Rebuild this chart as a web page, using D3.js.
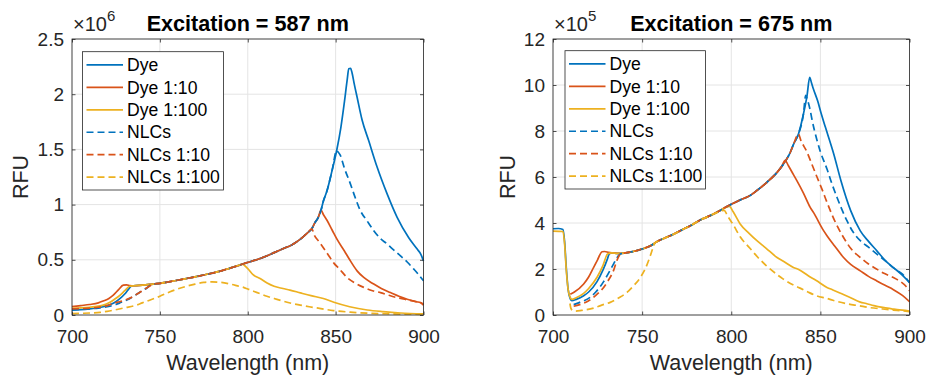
<!DOCTYPE html>
<html><head><meta charset="utf-8">
<script src="https://cdn.jsdelivr.net/npm/d3@7"></script>
<style>
body{margin:0;background:#fff;}
text{font-family:"Liberation Sans",Arial,Helvetica,sans-serif;}
</style></head>
<body><svg id="c" width="926" height="376"></svg>
<script>
// ---------- data ----------
const wlTicks = [700, 750, 800, 850, 900];
const rfuTicks587 = [0, 0.5, 1, 1.5, 2, 2.5];
const rfuTicks675 = [0, 2, 4, 6, 8, 10, 12];
const seriesNames = ["Dye", "Dye 1:10", "Dye 1:100", "NLCs", "NLCs 1:10", "NLCs 1:100"];
const titles = ["Excitation = 587 nm", "Excitation = 675 nm"];
const exponents = ["6", "5"];

// Excitation 587 nm, RFU x 1e6, [wavelength, value]
const dye587 = [[700,0.045],[705,0.048],[710,0.055],[715,0.066],[720,0.085],[724,0.11],[727.4,0.15],[730,0.19],[732,0.23],[733.7,0.26],[735,0.265],
 [740,0.27],[745,0.278],[750,0.287],[755,0.30],[760,0.315],[765,0.33],[770,0.345],[775,0.362],[780,0.38],[785,0.40],[790,0.425],[795,0.45],[800,0.477],[805,0.50],[810,0.53],[815,0.565],[820,0.60],[825,0.635],[828,0.665],[831,0.70],[834,0.745],[836.4,0.78],[838,0.83],[840,0.88],[841.7,0.95],[843,1.03],[845,1.12],[848,1.31],[850.6,1.49],[853,1.70],[855,1.93],[856.5,2.12],[857.5,2.23],[858.5,2.235],
 [859.4,2.19],[860.5,2.10],[862.2,1.975],[865.1,1.764],[868.8,1.58],[873.6,1.34],[879.3,1.097],[885,0.885],[891.6,0.70],[896.4,0.597],[898.5,0.55],[900,0.49]];
const dye10_587 = [[700,0.075],[705,0.085],[710,0.095],[715,0.11],[717.8,0.127],[721,0.15],[723.5,0.18],[726.5,0.23],[729.2,0.27],[731,0.272],[733,0.267],[735,0.265],
 [740,0.27],[745,0.278],[750,0.287],[755,0.30],[760,0.315],[765,0.33],[770,0.345],[775,0.362],[780,0.38],[785,0.40],[790,0.425],[795,0.45],[800,0.477],[805,0.50],[810,0.53],[815,0.565],[820,0.60],[825,0.635],[828,0.665],[831,0.70],[834,0.745],[836.4,0.78],[838,0.83],[840,0.88],[841.7,0.95],
 [843,0.91],[845,0.86],[848,0.77],[851,0.68],[855,0.58],[858,0.50],[862.2,0.40],[866,0.34],[871.7,0.28],[876,0.24],[881.2,0.203],[886,0.17],[890.7,0.143],[896,0.12],[898.3,0.112],[900,0.09]];
const dye100_587 = [[700,0.06],[705,0.064],[710,0.07],[715,0.08],[717.8,0.09],[721,0.11],[724,0.14],[727.4,0.18],[730,0.22],[732.8,0.26],[735,0.265],
 [740,0.27],[745,0.278],[750,0.287],[755,0.30],[760,0.315],[765,0.33],[770,0.345],[775,0.362],[780,0.38],[785,0.40],[790,0.425],[795,0.45],
 [796.7,0.46],[800,0.42],[803,0.365],[807,0.33],[811,0.29],[815,0.26],[820,0.24],[824,0.226],[830,0.20],[836,0.175],[843,0.15],[849,0.115],[858,0.075],[868,0.045],[877,0.03],[887,0.018],[900,0.01]];
const nlc587 = [[700,0.05],[705,0.052],[710,0.056],[715,0.063],[720,0.075],[725,0.095],[728,0.115],[731.2,0.136],[735,0.17],[738,0.20],[740.6,0.225],[742.6,0.245],[745,0.275],
 [750,0.287],[755,0.30],[760,0.315],[765,0.33],[770,0.345],[775,0.362],[780,0.38],[785,0.40],[790,0.425],[795,0.45],[800,0.477],[805,0.50],[810,0.53],[815,0.565],[820,0.60],[825,0.635],[828,0.665],[831,0.70],[834,0.745],[836.4,0.78],[838,0.83],[840,0.88],[841.7,0.95],[843,1.03],[845,1.12],[848,1.31],[850.6,1.49],
 [851.2,1.48],[852.7,1.445],[855,1.33],[858.4,1.188],[861,1.07],[864.1,0.945],[868,0.85],[871.7,0.764],[875,0.70],[879.3,0.643],[883,0.59],[886.9,0.536],[890.7,0.48],[894.5,0.415],[897,0.37],[900,0.31]];
const nlc10_587 = [[700,0.055],[705,0.058],[710,0.062],[715,0.07],[720,0.085],[723.5,0.106],[727,0.12],[731,0.14],[735,0.17],[738,0.20],[741,0.23],[744,0.26],[746,0.28],
 [750,0.287],[755,0.30],[760,0.315],[765,0.33],[770,0.345],[775,0.362],[780,0.38],[785,0.40],[790,0.425],[795,0.45],[800,0.477],[805,0.50],[810,0.53],[815,0.565],[820,0.60],[825,0.635],[828,0.665],[831,0.70],[834,0.745],[836.4,0.78],
 [838,0.72],[840.8,0.66],[843,0.61],[846.4,0.53],[849,0.47],[852,0.42],[856.5,0.34],[861,0.29],[866,0.25],[871,0.22],[875.5,0.203],[880,0.18],[885,0.157],[890,0.14],[894.5,0.125],[898,0.113],[900,0.10]];
const nlc100_587 = [[700,0.012],[705,0.015],[710,0.018],[716,0.024],[720,0.033],[725.6,0.05],[730,0.065],[736.8,0.09],[740,0.11],[744.5,0.136],[750,0.17],[755.8,0.21],[760,0.235],[765,0.26],[770,0.28],[775,0.295],[779.6,0.30],[785,0.295],[790,0.28],[795,0.26],[797.6,0.25],[800,0.235],[805,0.205],[810.9,0.17],[815,0.15],[820.4,0.124],[825,0.105],[829.9,0.09],[835,0.075],[839.3,0.064],[848.8,0.04],[858.3,0.026],[867.8,0.017],[880,0.011],[890,0.008],[900,0.006]];

// Excitation 675 nm, RFU x 1e5, [wavelength, value]
const dye675 = [[700,3.75],[703,3.76],[705.6,3.72],[706.5,3.2],[707.5,2.0],[708.5,1.1],[709.7,0.70],[710.6,0.62],[713,0.68],[717.2,0.84],[720,1.0],[724.7,1.45],[728,1.95],[730.6,2.45],[731.5,2.65],[733,2.70],
 [736,2.68],[740,2.69],[745,2.76],[750,2.87],[755,3.02],[758.3,3.19],[765,3.42],[773.3,3.74],[777,3.88],[782.6,4.13],[788.2,4.32],[795,4.60],[800,4.82],[805,5.0],[810.7,5.2],[815,5.45],[820,5.77],[825.7,6.2],[828,6.42],[830.3,6.68],[833,7.05],[835,7.43],[837.7,7.87],[840.5,8.74],[842.5,9.53],
 [844,10.33],[845,10.1],[846,9.85],[848.5,9.3],[850.5,8.75],[852.8,8.17],[857.5,7.0],[861.5,5.85],[867,4.54],[872.4,3.66],[877,3.2],[881.7,2.79],[886,2.4],[891,2.06],[895,1.8],[900,1.42]];
const dye10_675 = [[709.7,0.90],[712,1.0],[717.2,1.35],[720,1.65],[722.8,2.07],[725,2.4],[727.5,2.75],[729,2.76],[731.2,2.72],[733,2.70],
 [736,2.68],[740,2.69],[745,2.76],[750,2.87],[755,3.02],[758.3,3.19],[765,3.42],[773.3,3.74],[777,3.88],[782.6,4.13],[788.2,4.32],[795,4.60],[800,4.82],[805,5.0],[810.7,5.2],[815,5.45],[820,5.77],[825.7,6.2],[828,6.42],
 [830.3,6.72],[832,6.5],[834.9,6.1],[836.8,5.84],[840.5,5.3],[844.3,4.68],[846.2,4.45],[851.8,3.67],[853.7,3.45],[858,3.0],[863,2.5],[867,2.2],[872.4,1.92],[877,1.68],[881.7,1.48],[886,1.3],[891,1.1],[896,0.85],[900,0.58]];
const dye100_675 = [[700,3.65],[705.6,3.63],[706.5,3.1],[707.5,1.9],[708.5,1.1],[709.7,0.75],[710.6,0.68],[713,0.75],[717.2,0.94],[720,1.15],[724.7,1.64],[728,2.15],[730.6,2.65],[733,2.70],
 [736,2.68],[740,2.69],[745,2.76],[750,2.87],[755,3.02],[758.3,3.19],[765,3.42],[773.3,3.74],[777,3.88],[782.6,4.13],[788.2,4.32],[795,4.60],
 [797,4.68],[799,4.72],[801,4.5],[805,3.96],[810,3.55],[814.4,3.23],[819.6,2.9],[825.7,2.5],[829,2.35],[834.9,2.07],[838.3,1.96],[843,1.72],[847.7,1.5],[853.7,1.2],[857,1.09],[862,0.92],[866.4,0.77],[872.4,0.56],[875.7,0.5],[880,0.41],[885,0.33],[890,0.27],[894.4,0.22],[898.5,0.19],[900,0.16]];
const nlc675 = [[711.6,0.45],[715,0.55],[720.9,0.77],[724,1.0],[728.4,1.45],[731,1.8],[734,2.22],[736,2.5],[737.7,2.65],[740,2.69],
 [745,2.76],[750,2.87],[755,3.02],[758.3,3.19],[765,3.42],[773.3,3.74],[777,3.88],[782.6,4.13],[788.2,4.32],[795,4.60],[800,4.82],[805,5.0],[810.7,5.2],[815,5.45],[820,5.77],[825.7,6.2],[828,6.42],[830.3,6.68],[833,7.05],[835,7.43],[837.7,7.87],[840.5,8.74],
 [841.8,9.55],[843,9.3],[844.3,8.9],[845.3,8.5],[848.1,7.6],[850,7.1],[853.7,6.35],[856.5,5.7],[859.3,5.12],[864.9,4.1],[868,3.65],[872.4,3.23],[877,2.95],[881.7,2.65],[887.3,2.3],[891,2.05],[894.8,1.85],[897,1.7],[900,1.4]];
const nlc10_675 = [[711.6,0.38],[715,0.45],[720.9,0.66],[724,0.85],[728.4,1.2],[731,1.5],[734,1.94],[736,2.4],[737.5,2.62],[740,2.69],
 [745,2.76],[750,2.87],[755,3.02],[758.3,3.19],[765,3.42],[773.3,3.74],[777,3.88],[782.6,4.13],[788.2,4.32],[795,4.60],[800,4.82],[805,5.0],[810.7,5.2],[815,5.45],[820,5.77],[825.7,6.2],[828,6.42],[830.3,6.68],[833,7.05],[835,7.43],
 [837.7,7.87],[839,7.6],[842.4,7.1],[845,6.6],[848.1,6.0],[851,5.45],[853.7,4.9],[858,4.1],[863,3.37],[867,2.9],[872.4,2.5],[877,2.22],[881.7,1.99],[886,1.8],[891,1.63],[895,1.45],[898,1.25],[900,1.05]];
const nlc100_675 = [[709.5,0.5],[710,0.3],[711,0.2],[712.5,0.17],[716,0.2],[722.8,0.3],[727,0.42],[732.1,0.55],[737,0.75],[741.5,0.98],[745,1.25],[749,1.63],[752,2.05],[754.6,2.58],[756,2.9],[757.4,3.16],[758.3,3.19],
 [765,3.42],[773.3,3.74],[777,3.88],[782.6,4.13],[788.2,4.32],[792,4.45],[796,4.55],
 [798,4.3],[801.3,3.9],[805,3.4],[810.5,2.9],[815,2.5],[819.6,2.15],[825,1.8],[829,1.57],[834.9,1.3],[838.3,1.18],[843,1.0],[847.7,0.84],[853.7,0.72],[857,0.64],[866,0.47],[872,0.4],[876,0.34],[885,0.26],[893,0.2],[900,0.15]];

// ---------- drawing ----------
const colors = ["#0072BD", "#D95319", "#EDB120", "#0072BD", "#D95319", "#EDB120"];
const dashes = [null, null, null, "7,4", "7,4", "7,4"];
const svg = d3.select("#c");
svg.append("rect").attr("width", 926).attr("height", 376).attr("fill", "#fff");

const panels = [
  {x0: 72, x1: 423.5, y0: 39, y1: 315, ymax: 2.5, yticks: rfuTicks587, series: [dye587, dye10_587, dye100_587, nlc587, nlc10_587, nlc100_587],
   title: titles[0], exp: exponents[0], rfuX: 28, leg: {x: 82.5, y: 51.7, w: 141, h: 138.3}},
  {x0: 553, x1: 909.5, y0: 39, y1: 315, ymax: 12, yticks: rfuTicks675, series: [dye675, dye10_675, dye100_675, nlc675, nlc10_675, nlc100_675],
   title: titles[1], exp: exponents[1], rfuX: 515, leg: {x: 565, y: 50.7, w: 140.5, h: 138.3}}
];

panels.forEach(p => {
  const x = d3.scaleLinear().domain([700, 900]).range([p.x0, p.x1]);
  const y = d3.scaleLinear().domain([0, p.ymax]).range([p.y1, p.y0]);
  const g = svg.append("g");

  // grid
  g.selectAll(".gx").data(wlTicks).enter().append("line")
    .attr("x1", d => x(d)).attr("x2", d => x(d)).attr("y1", p.y0).attr("y2", p.y1)
    .attr("stroke", "#e4e4e4").attr("stroke-width", 1);
  g.selectAll(".gy").data(p.yticks).enter().append("line")
    .attr("x1", p.x0).attr("x2", p.x1).attr("y1", d => y(d)).attr("y2", d => y(d))
    .attr("stroke", "#e4e4e4").attr("stroke-width", 1);

  // lines
  const line = d3.line().x(d => x(d[0])).y(d => y(d[1])).curve(d3.curveMonotoneX);
  p.series.forEach((s, i) => {
    g.append("path").datum(s).attr("d", line).attr("fill", "none")
      .attr("stroke", colors[i]).attr("stroke-width", 1.7)
      .attr("stroke-dasharray", dashes[i]).attr("stroke-linejoin", "round");
  });

  // axes
  const ax = g.append("g").attr("transform", `translate(0,${p.y1})`)
    .call(d3.axisBottom(x).tickValues(wlTicks).tickSizeInner(-3.5).tickSizeOuter(0).tickPadding(14.5).tickFormat(d3.format("d")));
  const axT = g.append("g").attr("transform", `translate(0,${p.y0})`)
    .call(d3.axisTop(x).tickValues(wlTicks).tickSizeInner(-3.5).tickSizeOuter(0).tickFormat(""));
  const ay = g.append("g").attr("transform", `translate(${p.x0},0)`)
    .call(d3.axisLeft(y).tickValues(p.yticks).tickSizeInner(-3.5).tickSizeOuter(0).tickPadding(8).tickFormat(d => String(d)));
  const ayR = g.append("g").attr("transform", `translate(${p.x1},0)`)
    .call(d3.axisRight(y).tickValues(p.yticks).tickSizeInner(-3.5).tickSizeOuter(0).tickFormat(""));
  [ax, axT, ay, ayR].forEach(a => {
    a.select(".domain").remove();
    a.selectAll(".tick line").attr("stroke", "#262626").attr("stroke-width", 0.8);
    a.selectAll(".tick text").attr("fill", "#262626").style("font-size", "19px")
      .style("font-family", '"Liberation Sans",Arial,sans-serif');
  });

  // box
  g.append("rect").attr("x", p.x0).attr("y", p.y0).attr("width", p.x1 - p.x0).attr("height", p.y1 - p.y0)
    .attr("fill", "none").attr("stroke", "#262626").attr("stroke-width", 0.8);

  // title
  g.append("text").attr("x", (p.x0 + p.x1) / 2).attr("y", 31).attr("text-anchor", "middle")
    .style("font-size", "21.6px").style("font-weight", "bold").attr("fill", "#000").text(p.title);
  // exponent
  const ex = g.append("text").attr("x", p.x0 + 1).attr("y", 30.5).attr("fill", "#262626").style("font-size", "20px");
  ex.append("tspan").text("\u00d710");
  ex.append("tspan").attr("dy", -10).style("font-size", "15px").text(p.exp);

  // axis labels
  g.append("text").attr("x", (p.x0 + p.x1) / 2).attr("y", 370).attr("text-anchor", "middle")
    .attr("fill", "#262626").style("font-size", "21.5px").text("Wavelength (nm)");
  g.append("text").attr("transform", `translate(${p.rfuX},${(p.y0 + p.y1) / 2}) rotate(-90)`)
    .attr("text-anchor", "middle").attr("fill", "#262626").style("font-size", "21.5px").text("RFU");

  // legend
  const L = p.leg;
  const lg = g.append("g");
  lg.append("rect").attr("x", L.x).attr("y", L.y).attr("width", L.w).attr("height", L.h)
    .attr("fill", "#fff").attr("stroke", "#262626").attr("stroke-width", 0.8);
  seriesNames.forEach((name, i) => {
    const cy = L.y + 13.2 + i * 22.45;
    lg.append("line").attr("x1", L.x + 4).attr("x2", L.x + 40.5).attr("y1", cy).attr("y2", cy)
      .attr("stroke", colors[i]).attr("stroke-width", 1.7).attr("stroke-dasharray", dashes[i]);
    lg.append("text").attr("x", L.x + 44.5).attr("y", cy).attr("dy", "0.35em")
      .attr("fill", "#000").style("font-size", "17.6px").text(name);
  });
});
</script></body></html>
